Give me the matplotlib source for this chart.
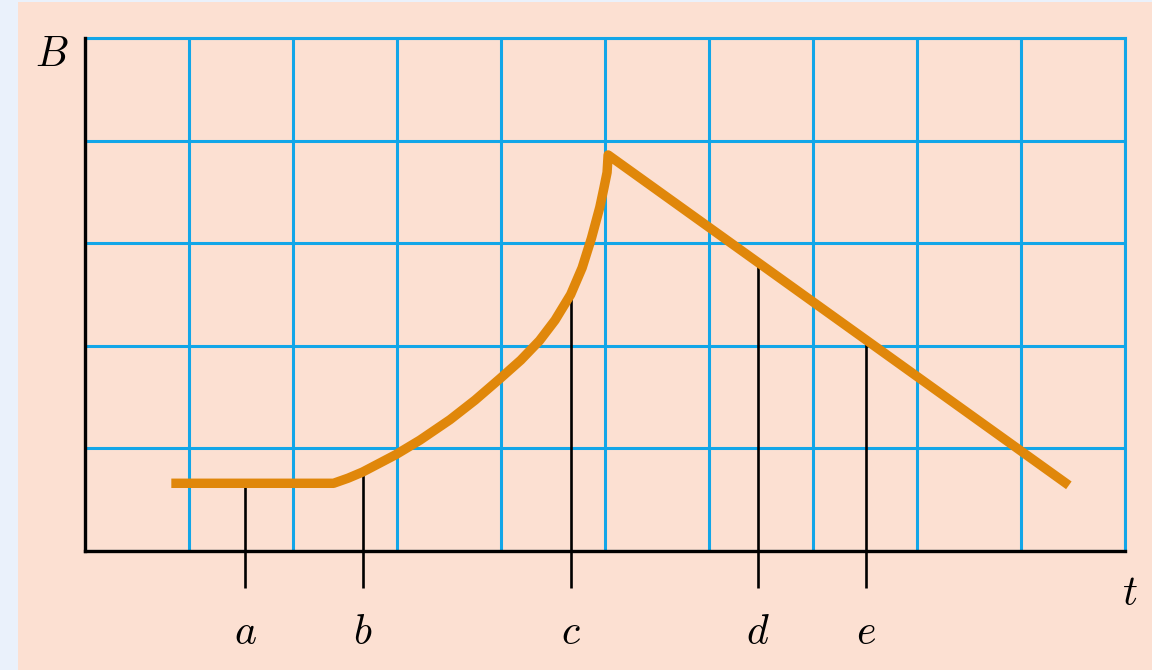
import matplotlib
matplotlib.use("Agg")
import matplotlib.pyplot as plt
from matplotlib.patches import Rectangle

# Curve B(t) (grid units)
t_vals = [0.83, 2.39, 2.53, 2.67, 2.99, 3.22, 3.51, 3.75, 3.99, 4.19, 4.37,
          4.52, 4.67, 4.78, 4.87, 4.95, 4.99, 5.02, 5.03, 9.46]
B_vals = [0.66, 0.66, 0.71, 0.77, 0.94, 1.08, 1.28, 1.47, 1.68, 1.86, 2.05,
          2.25, 2.50, 2.76, 3.05, 3.35, 3.54, 3.69, 3.86, 0.64]

# Marked instants and curve values there
mark_labels = ["a", "b", "c", "d", "e"]
mark_t = [1.54, 2.67, 4.67, 6.47, 7.51]
mark_B = [0.66, 0.77, 2.50, 2.82, 2.06]
mark_bottom = -0.36

x_ticks = list(range(0, 11))
y_ticks = list(range(0, 6))

W, H = 1152, 670
fig = plt.figure(figsize=(W / 100, H / 100), dpi=100)
fig.patch.set_facecolor("#EAF1FB")
fig.patches.append(Rectangle((18 / W, 0), 1 - 18 / W, 1 - 2 / H,
                             transform=fig.transFigure, facecolor="#FCE0D2",
                             edgecolor="none", zorder=-5))

ax = fig.add_axes([85 / W, (H - 551) / H, (1125 - 85) / W, (551 - 38) / H])
ax.set_zorder(2)
ax.set_facecolor("none")
ax.set_xlim(0, 10)
ax.set_ylim(0, 5)
ax.set_xticks(x_ticks)
ax.set_yticks(y_ticks)
ax.tick_params(length=0, labelbottom=False, labelleft=False)
ax.grid(True, color="#12A6E8", linewidth=2.2, zorder=1)
ax.set_axisbelow(True)
for s in ["top", "right"]:
    ax.spines[s].set_visible(False)
for s in ["left", "bottom"]:
    ax.spines[s].set_color("black")
    ax.spines[s].set_linewidth(2.4)
    ax.spines[s].set_zorder(3)
# blue borders on top/right edges
ax.axhline(5, color="#12A6E8", linewidth=2.2, zorder=1, clip_on=False)
ax.axvline(10, color="#12A6E8", linewidth=2.2, zorder=1, clip_on=False)

# marker lines
for tm, bm in zip(mark_t, mark_B):
    ax.plot([tm, tm], [mark_bottom, bm], color="black", linewidth=1.9,
            zorder=4, clip_on=False, solid_capstyle="butt")

ax.plot(t_vals, B_vals, color="#E0870A", linewidth=6.8, zorder=5,
        solid_joinstyle="round", solid_capstyle="butt")

plt.rcParams["mathtext.fontset"] = "cm"
for lab, tm in zip(mark_labels, mark_t):
    ax.text(tm, -0.79, "$" + lab + "$", fontsize=30, ha="center", va="center",
            clip_on=False)
ax.text(-0.32, 4.84, "$B$", fontsize=30, ha="center", va="center", clip_on=False)
ax.text(10.05, -0.41, "$t$", fontsize=30, ha="center", va="center", clip_on=False)

fig.savefig("out.png", dpi=100)
